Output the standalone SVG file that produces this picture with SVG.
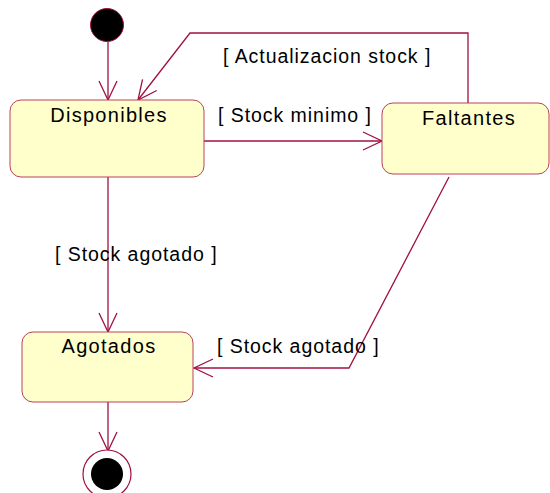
<svg xmlns="http://www.w3.org/2000/svg" width="550" height="493" viewBox="0 0 550 493">
  <defs>
    <style>
      .state { fill: #ffffcc; stroke: #b8405f; stroke-width: 1; }
      .edge { fill: none; stroke: #a01045; stroke-width: 1.3; }
      .lbl { font-family: "Liberation Sans", Arial, sans-serif; font-size: 19.5px; letter-spacing: 0.95px; fill: #000; }
      .name { text-anchor: middle; font-size: 20px; letter-spacing: 1.3px; }
    </style>
    <marker id="open" markerUnits="userSpaceOnUse" markerWidth="24" markerHeight="22" viewBox="-22 -11 24 22" refX="0" refY="0" orient="auto">
      <path d="M-19,-9 L0,0 L-19,9" fill="none" stroke="#a01045" stroke-width="1.3"/>
    </marker>
  </defs>
  <rect width="550" height="493" fill="#ffffff"/>

  <!-- transitions -->
  <g id="connectors">
    <line class="edge" x1="108" y1="42" x2="108" y2="100" marker-end="url(#open)"/>
    <polyline class="edge" points="468,103 468,33 190,33 138,100" marker-end="url(#open)"/>
    <line class="edge" x1="204" y1="141" x2="382" y2="141" marker-end="url(#open)"/>
    <line class="edge" x1="108" y1="177" x2="108" y2="332" marker-end="url(#open)"/>
    <polyline class="edge" points="449,177 349,368 194,368" marker-end="url(#open)"/>
    <line class="edge" x1="108" y1="402" x2="108" y2="451" marker-end="url(#open)"/>
    <text class="lbl" x="223" y="63">[ Actualizacion stock ]</text>
    <text class="lbl" x="218" y="122">[ Stock minimo ]</text>
    <text class="lbl" x="55" y="261">[ Stock agotado ]</text>
    <text class="lbl" x="217" y="353">[ Stock agotado ]</text>
  </g>

  <g id="initial">
    <circle cx="107" cy="25" r="16.5" fill="#000" stroke="#a01045" stroke-width="1"/>
  </g>

  <g id="disponibles">
    <rect class="state" x="10" y="100" width="194" height="77" rx="11"/>
    <text class="lbl name" x="109" y="122">Disponibles</text>
  </g>

  <g id="faltantes">
    <rect class="state" x="382" y="103" width="167" height="71" rx="11"/>
    <text class="lbl name" x="469" y="125">Faltantes</text>
  </g>

  <g id="agotados">
    <rect class="state" x="22" y="332" width="171" height="70" rx="11"/>
    <text class="lbl name" x="109" y="353">Agotados</text>
  </g>

  <g id="final">
    <circle cx="107" cy="474" r="24" fill="#fff" stroke="#a01045" stroke-width="1.2"/>
    <circle cx="107" cy="474" r="16" fill="#000"/>
  </g>
</svg>
